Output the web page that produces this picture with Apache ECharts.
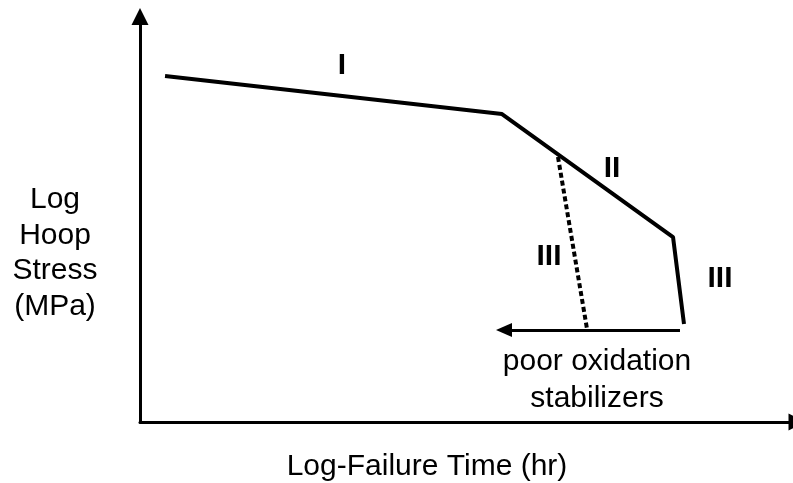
<!DOCTYPE html>
<html>
<head>
<meta charset="utf-8">
<script src="https://cdn.jsdelivr.net/npm/echarts@6/dist/echarts.min.js"></script>
<style>
  html, body { margin: 0; padding: 0; background: #fff; }
  #main { width: 793px; height: 483px; }
</style>
</head>
<body>
<div id="main"></div>
<script>
// schematic stress-rupture curve, axes in arbitrary log units 0..100
var failureCurve = [[3.81, 85.33], [55.10, 75.95], [81.13, 45.62], [82.80, 24.17]]
var earlyStageIII = [[63.62, 65.35], [68.04, 22.93]]
var shiftArrow = [[82.19, 22.69], [55.40, 22.69]]
var stageNames = ['I', 'II', 'III', 'III']
var stagePos = [[30.75, 87.79], [71.84, 62.39], [62.25, 40.69], [88.28, 35.27]]
var noteText = 'poor oxidation\nstabilizers'
var notePos = [69.56, 10.36]
var xTitle = 'Log-Failure Time (hr)'
var yTitle = 'Log\nHoop\nStress\n(MPa)'

var chart = echarts.init(document.getElementById('main'))
var font = 'Liberation Sans, Arial, sans-serif'

var stageData = stageNames.map(function (n, i) {
  return { name: n, value: stagePos[i] }
})

chart.setOption({
  animation: false,
  // axis end pushed past the right edge so the arrow head is clipped like the original
  grid: { left: 140, right: -4, top: 16.5, bottom: 61, outerBoundsMode: 'none', containLabel: false },
  xAxis: {
    type: 'value', min: 0, max: 100,
    axisLine: { show: true, symbol: ['none', 'triangle'], symbolSize: [17, 17],
      lineStyle: { color: '#000', width: 3 } },
    axisTick: { show: false }, axisLabel: { show: false }, splitLine: { show: false }
  },
  yAxis: {
    type: 'value', min: 0, max: 100,
    axisLine: { show: true, symbol: ['none', 'triangle'], symbolSize: [17, 17],
      lineStyle: { color: '#000', width: 3 } },
    axisTick: { show: false }, axisLabel: { show: false }, splitLine: { show: false }
  },
  graphic: [
    { type: 'text', x: 427, y: 467,
      style: { text: xTitle, font: '30px ' + font, fill: '#000', align: 'center', verticalAlign: 'middle' } },
    { type: 'text', x: 55, y: 253,
      style: { text: yTitle, font: '30px ' + font, fill: '#000', align: 'center', verticalAlign: 'middle', lineHeight: 35.5 } }
  ],
  series: [
    {
      type: 'line', data: failureCurve, symbol: 'none', silent: true,
      lineStyle: { color: '#000', width: 4 }
    },
    {
      type: 'line', data: earlyStageIII, symbol: 'none', silent: true,
      lineStyle: { color: '#000', width: 4, type: [5, 3] }
    },
    {
      type: 'line', data: [], symbol: 'none', silent: true,
      markLine: {
        silent: true, symbol: ['none', 'triangle'], symbolSize: [14, 16],
        label: { show: false },
        itemStyle: { color: '#000' },
        lineStyle: { color: '#000', width: 3, type: 'solid' },
        data: [[{ coord: shiftArrow[0] }, { coord: shiftArrow[1] }]]
      }
    },
    {
      type: 'scatter', data: stageData, symbolSize: 0, silent: true,
      itemStyle: { opacity: 1 },
      label: { show: true, position: 'inside', formatter: '{b}', color: '#000',
        fontFamily: font, fontWeight: 'bold', fontSize: 30 }
    },
    {
      type: 'scatter', data: [{ name: noteText, value: notePos }], symbolSize: 0, silent: true,
      itemStyle: { opacity: 1 },
      label: { show: true, position: 'inside', formatter: '{b}', color: '#000',
        fontFamily: font, fontSize: 30, lineHeight: 37 }
    }
  ]
})
</script>
</body>
</html>
